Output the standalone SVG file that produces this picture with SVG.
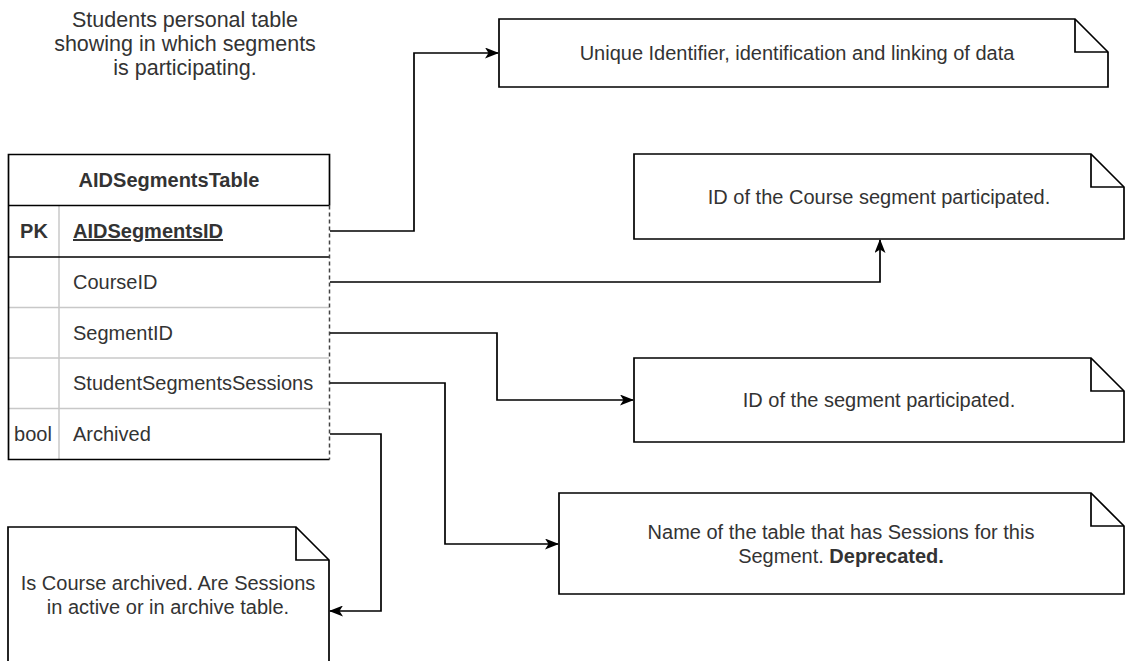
<svg xmlns="http://www.w3.org/2000/svg" width="1126" height="661" viewBox="0 0 1126 661">
<defs>
<style>
text{font-family:"Liberation Sans",Arial,sans-serif;font-size:20px;fill:#333}
.t{font-size:21.5px}
.c{text-anchor:middle}
.b{font-weight:bold}
.note{fill:#fff;stroke:#000;stroke-width:1.7}
.fold{fill:none;stroke:#000;stroke-width:1.7}
.edge{fill:none;stroke:#000;stroke-width:1.7}
.dark{fill:none;stroke:#000;stroke-width:1.7}
.light{fill:none;stroke:#c8c8c8;stroke-width:1.5}
</style>
<marker id="arr" viewBox="0 0 14 11" refX="13" refY="5.5" markerWidth="14" markerHeight="11" markerUnits="userSpaceOnUse" orient="auto">
<path d="M0,0 L14,5.5 L0,11 L3.5,5.5 Z" fill="#000"/>
</marker>
</defs>
<rect width="1126" height="661" fill="#fff"/>
<g id="title">
<text class="c t" x="185" y="27">Students personal table</text>
<text class="c t" x="185" y="51">showing in which segments</text>
<text class="c t" x="185" y="75">is participating.</text>
</g>
<g id="table">
<rect x="8.5" y="205.5" width="321" height="254" fill="#fff"/>
<line class="light" x1="59" y1="257" x2="59" y2="459"/>
<line class="light" x1="59" y1="206" x2="59" y2="257"/>
<line class="light" x1="9" y1="307.5" x2="329" y2="307.5"/>
<line class="light" x1="9" y1="358" x2="329" y2="358"/>
<line class="light" x1="9" y1="408.5" x2="329" y2="408.5"/>
<path class="dark" d="M329.5,459.5 H8.5 V154.5 H329.5 V205.5"/>
<line class="dark" x1="8.5" y1="205.5" x2="329.5" y2="205.5"/>
<line class="dark" x1="8.5" y1="257" x2="329.5" y2="257"/>
<line x1="329.5" y1="205.5" x2="329.5" y2="459.5" stroke="#444" stroke-width="1.5" stroke-dasharray="4,3"/>
<text class="c b" x="169" y="187">AIDSegmentsTable</text>
<text class="c b" x="34" y="238">PK</text>
<text class="b" x="73" y="238" text-decoration="underline">AIDSegmentsID</text>
<text x="73" y="289">CourseID</text>
<text x="73" y="340">SegmentID</text>
<text x="73" y="390">StudentSegmentsSessions</text>
<text class="c" x="33" y="441">bool</text>
<text x="73" y="441">Archived</text>
</g>
<g id="note1">
<path class="note" d="M499,19 H1075 L1108,52 V87 H499 Z"/>
<path class="fold" d="M1075,19 V52 H1108"/>
<text class="c" x="797" y="60">Unique Identifier, identification and linking of data</text>
</g>
<g id="note2">
<path class="note" d="M634,154 H1091 L1124,187 V239 H634 Z"/>
<path class="fold" d="M1091,154 V187 H1124"/>
<text class="c" x="879" y="204">ID of the Course segment participated.</text>
</g>
<g id="note3">
<path class="note" d="M634,358 H1091 L1124,391 V442 H634 Z"/>
<path class="fold" d="M1091,358 V391 H1124"/>
<text class="c" x="879" y="407">ID of the segment participated.</text>
</g>
<g id="note4">
<path class="note" d="M559,493 H1091 L1124,526 V594 H559 Z"/>
<path class="fold" d="M1091,493 V526 H1124"/>
<text class="c" x="841" y="539">Name of the table that has Sessions for this</text>
<text class="c" x="841" y="563">Segment. <tspan class="b">Deprecated.</tspan></text>
</g>
<g id="note5">
<path class="note" d="M8,527 H296 L329,560 V680 H8 Z"/>
<path class="fold" d="M296,527 V560 H329"/>
<text class="c" x="168" y="590">Is Course archived. Are Sessions</text>
<text class="c" x="168" y="614">in active or in archive table.</text>
</g>
<g id="connectors">
<path class="edge" d="M330,231 H414 V53 H498" marker-end="url(#arr)"/>
<path class="edge" d="M330,282 H880 V240" marker-end="url(#arr)"/>
<path class="edge" d="M330,333 H497 V400 H633" marker-end="url(#arr)"/>
<path class="edge" d="M330,383 H445 V544 H558" marker-end="url(#arr)"/>
<path class="edge" d="M330,434 H381 V611 H330" marker-end="url(#arr)"/>
</g>
</svg>
